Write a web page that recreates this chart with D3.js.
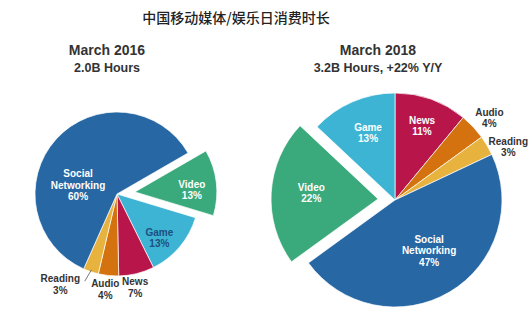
<!DOCTYPE html>
<html>
<head>
<meta charset="utf-8">
<script src="https://cdn.jsdelivr.net/npm/d3@7"></script>
<style>
  body { margin: 0; background: #fff; }
  svg { display: block; font-family: "Liberation Sans", Arial, sans-serif; }
</style>
</head>
<body>
<div id="chart"></div>
<script>
// données
const categories2016 = ["Video", "Game", "News", "Audio", "Reading", "Social Networking"];
const values2016 = [13, 13, 7, 4, 3, 60];
const categories2018 = ["News", "Audio", "Reading", "Social Networking", "Video", "Game"];
const values2018 = [11, 4, 3, 47, 22, 13];
const title = "中国移动媒体/娱乐日消费时长";
const headers2016 = ["March 2016", "2.0B Hours"];
const headers2018 = ["March 2018", "3.2B Hours, +22% Y/Y"];

const colors = d3.scaleOrdinal()
  .domain(["Social Networking", "Video", "Game", "News", "Audio", "Reading"])
  .range(["#2767a3", "#3aa97b", "#3db4d3", "#b8154b", "#d4720f", "#e7b23e"]);

const width = 530, height = 310;

const svg = d3.select("#chart").append("svg")
  .attr("width", width)
  .attr("height", height);

svg.append("text")
  .attr("x", 236).attr("y", 23)
  .attr("text-anchor", "middle")
  .attr("font-family", "'Noto Sans CJK SC', sans-serif")
  .attr("font-weight", 500)
  .attr("font-size", 14)
  .attr("fill", "#222")
  .text(title);

function header(lines, x) {
  svg.append("text").attr("x", x).attr("y", 55)
    .attr("text-anchor", "middle").attr("font-weight", "bold")
    .attr("font-size", 14).attr("fill", "#333").text(lines[0]);
  svg.append("text").attr("x", x).attr("y", 72)
    .attr("text-anchor", "middle").attr("font-weight", "bold")
    .attr("font-size", 12.5).attr("fill", "#333").text(lines[1]);
}
header(headers2016, 107);
header(headers2018, 378);

// placement des étiquettes : [angle en degrés, rayon, couleur]
const labels2016 = {
  "Social Networking": [283, 40, "#fff"],
  "Video": [88, 57, "#fff"],
  "Game": [136, 61, "#1e4f80"],
  "News": [169, 95, "#333"],
  "Audio": [187, 96, "#333"],
  "Reading": [212, 107, "#333"]
};
const labels2018 = {
  "Game": [338, 72, "#fff"],
  "News": [20, 79, "#fff"],
  "Audio": [49, 125, "#333"],
  "Reading": [65, 125, "#333"],
  "Video": [275, 67, "#fff"],
  "Social Networking": [146, 61, "#fff"]
};

function buildPie(cats, vals, cx, cy, r, start, explode, labels, leader) {
  const data = cats.map((c, i) => ({ name: c, value: vals[i] }));
  const pie = d3.pie().sort(null).value(d => d.value)
    .startAngle(start * Math.PI / 180)
    .endAngle(start * Math.PI / 180 + 2 * Math.PI);
  const arcs = pie(data);
  const arc = d3.arc().innerRadius(0).outerRadius(r);
  const g = svg.append("g").attr("transform", `translate(${cx},${cy})`);

  // décalage de la part "Video"
  const off = d => {
    if (d.data.name !== "Video") return [0, 0];
    const a = (d.startAngle + d.endAngle) / 2;
    return [Math.sin(a) * explode, -Math.cos(a) * explode];
  };

  g.selectAll("path").data(arcs).join("path")
    .attr("d", arc)
    .attr("transform", d => `translate(${off(d)})`)
    .attr("fill", d => colors(d.data.name))
    .attr("stroke", "#fff")
    .attr("stroke-width", 0.7);

  if (leader) {
    const d = arcs.find(a => a.data.name === leader);
    const a = (d.startAngle + d.endAngle) / 2;
    g.append("line")
      .attr("x1", Math.sin(a) * (r - 2)).attr("y1", -Math.cos(a) * (r - 2))
      .attr("x2", Math.sin(a + 0.03) * (r + 11)).attr("y2", -Math.cos(a + 0.03) * (r + 11))
      .attr("stroke", "#555").attr("stroke-width", 0.8);
  }

  const lab = g.selectAll("text.lab").data(arcs).join("text")
    .attr("class", "lab")
    .attr("text-anchor", "middle")
    .attr("font-weight", "bold")
    .attr("font-size", 10)
    .attr("fill", d => labels[d.data.name][2])
    .attr("transform", d => {
      const [deg, lr] = labels[d.data.name];
      const a = deg * Math.PI / 180;
      const o = off(d);
      return `translate(${Math.sin(a) * lr + o[0]},${-Math.cos(a) * lr + o[1]})`;
    });

  lab.selectAll("tspan")
    .data(d => {
      const parts = d.data.name === "Social Networking" ? ["Social", "Networking"] : [d.data.name];
      return parts.concat(d.data.value + "%").map((t, i, arr) => ({ t, i, n: arr.length }));
    })
    .join("tspan")
    .attr("x", 0)
    .attr("y", d => (d.i - (d.n - 1) / 2) * 11.5 + 3.5)
    .text(d => d.t);
}

buildPie(categories2016, values2016, 117, 194, 82, 60, 18, labels2016, "Reading");
buildPie(categories2018, values2018, 395, 200, 107, 0, 17, labels2018, null);
</script>
</body>
</html>
